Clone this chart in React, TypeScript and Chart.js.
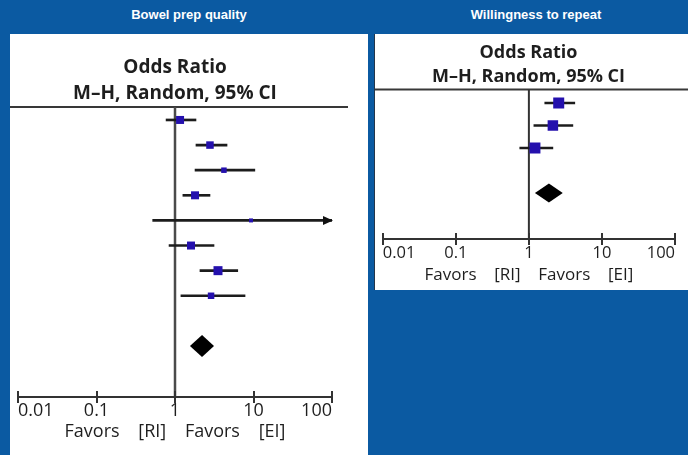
import React, { useEffect, useRef } from 'react';
import { Chart, registerables } from 'chart.js';

Chart.register(...registerables);

const FONT = '"Open Sans", "DejaVu Sans", sans-serif';
const BLUE = '#0b5aa2';
const SQUARE_BLUE = '#2410ad';
const INK = '#1e1e1e';

// shared axis / text content
const tickValues = [0.01, 0.1, 1, 10, 100];
const tickLabels = ['0.01', '0.1', '1', '10', '100'];
const plotTitle = ['Odds Ratio', 'M–H, Random, 95% CI'];
const favorsLabel = 'Favors    [RI]    Favors    [EI]';
const panelTitles = ['Bowel prep quality', 'Willingness to repeat'];

// Bowel prep quality (odds ratio, 95% CI, box size)
const bowelRows = [0, 1, 2, 3, 4, 5, 6, 7];
const bowelOR = [1.16, 2.79, 4.2, 1.8, 9.3, 1.6, 3.53, 2.88];
const bowelLower = [0.77, 1.85, 1.8, 1.26, 0.52, 0.84, 2.08, 1.19];
const bowelUpper = [1.85, 4.6, 10.4, 2.79, 250, 3.14, 6.3, 7.8];
const bowelBox = [8, 7.5, 5.5, 8, 4, 8, 9, 6.5];
const bowelPooledRow = 9;
const bowelPooled = [2.21, 1.55, 3.14]; // estimate, lower, upper

// Willingness to repeat
const repeatRows = [0, 1, 2];
const repeatOR = [2.56, 2.13, 1.21];
const repeatLower = [1.65, 1.17, 0.75];
const repeatUpper = [4.25, 4.0, 2.13];
const repeatBox = [11, 10.5, 11];
const repeatPooledRow = 4;
const repeatPooled = [1.88, 1.21, 2.91];

type PanelProps = {
  left: number; top: number; width: number; height: number;
  padLeft: number; padRight: number;
  titleSize: number; titleLH: number; titlePadTop: number;
  tickSize: number; tickPad: number; axisHeight: number;
  axisTitleSize: number; axisTitlePad: number;
  yMin: number; yMax: number;
  rows: number[]; or: number[]; lower: number[]; upper: number[]; box: number[];
  pooledRow: number; pooled: number[]; diamondH: number;
  headerExtend: number | null; nullWidth: number; nullColor: string;
};

function ForestPanel(p: PanelProps) {
  const ref = useRef<HTMLCanvasElement>(null);
  useEffect(() => {
    const canvas = ref.current!;
    const decor = {
      id: 'forestDecor',
      beforeDatasetsDraw(chart: any) {
        const { ctx, chartArea, scales } = chart;
        const x = scales.x;
        ctx.save();
        ctx.strokeStyle = '#383838';
        ctx.lineWidth = 2;
        ctx.beginPath();
        const hr = p.headerExtend === null ? chart.width : chartArea.right + p.headerExtend;
        ctx.moveTo(0, chartArea.top);
        ctx.lineTo(hr, chartArea.top);
        ctx.stroke();
        const x1 = x.getPixelForValue(1);
        ctx.strokeStyle = p.nullColor;
        ctx.lineWidth = p.nullWidth;
        ctx.beginPath();
        ctx.moveTo(x1, chartArea.top);
        ctx.lineTo(x1, chartArea.bottom);
        ctx.stroke();
        ctx.restore();
      },
      afterDatasetsDraw(chart: any) {
        const { ctx, scales } = chart;
        const x = scales.x;
        const y = scales.y;
        ctx.save();
        ctx.fillStyle = '#111';
        p.rows.forEach((r, i) => {
          if (p.upper[i] > x.max) {
            const tip = x.getPixelForValue(x.max) + 1;
            const yy = y.getPixelForValue(r);
            ctx.beginPath();
            ctx.moveTo(tip, yy);
            ctx.lineTo(tip - 10, yy - 4.5);
            ctx.lineTo(tip - 10, yy + 4.5);
            ctx.closePath();
            ctx.fill();
          }
        });
        const yd = y.getPixelForValue(p.pooledRow);
        const xe = x.getPixelForValue(p.pooled[0]);
        const xl = x.getPixelForValue(p.pooled[1]);
        const xh = x.getPixelForValue(p.pooled[2]);
        ctx.fillStyle = '#000';
        ctx.beginPath();
        ctx.moveTo(xl, yd);
        ctx.lineTo(xe, yd - p.diamondH);
        ctx.lineTo(xh, yd);
        ctx.lineTo(xe, yd + p.diamondH);
        ctx.closePath();
        ctx.fill();
        ctx.restore();
      },
      afterDraw(chart: any) {
        const { ctx, scales } = chart;
        const x = scales.x;
        ctx.save();
        ctx.strokeStyle = '#333';
        ctx.lineWidth = 2;
        x.ticks.forEach((_t: any, i: number) => {
          const px = Math.round(x.getPixelForTick(i));
          ctx.beginPath();
          ctx.moveTo(px, x.top - 6);
          ctx.lineTo(px, x.top + 6);
          ctx.stroke();
        });
        ctx.restore();
      },
    };

    const chart = new Chart(canvas, {
      type: 'scatter',
      data: {
        datasets: [
          {
            type: 'bar',
            indexAxis: 'y',
            data: p.rows.map((r, i) => ({ y: r, x: [p.lower[i], p.upper[i]] })) as any,
            backgroundColor: '#1c1c1c',
            borderWidth: 0,
            barThickness: 2,
            clip: 0,
            order: 2,
          } as any,
          {
            type: 'scatter',
            data: p.rows.map((r, i) => ({ x: p.or[i], y: r })),
            pointStyle: 'rect',
            pointRadius: p.box.map((b) => b * Math.SQRT1_2),
            pointHoverRadius: p.box.map((b) => b * Math.SQRT1_2),
            pointBorderWidth: 0,
            backgroundColor: SQUARE_BLUE,
            borderColor: SQUARE_BLUE,
            order: 1,
          } as any,
        ],
      },
      options: {
        responsive: false,
        animation: false,
        events: [],
        layout: { padding: { left: p.padLeft, right: p.padRight, top: 0, bottom: 0 } },
        plugins: {
          legend: { display: false },
          tooltip: { enabled: false },
          title: {
            display: true,
            text: plotTitle,
            color: INK,
            font: { family: FONT, size: p.titleSize, weight: 'bold', lineHeight: p.titleLH / p.titleSize },
            padding: { top: p.titlePadTop, bottom: 0 },
          },
        },
        scales: {
          x: {
            type: 'logarithmic',
            position: 'bottom',
            min: tickValues[0],
            max: tickValues[tickValues.length - 1],
            offset: false,
            afterBuildTicks: (scale: any) => {
              scale.ticks = tickValues.map((v) => ({ value: v }));
            },
            afterFit: (scale: any) => {
              scale.height = p.axisHeight;
            },
            grid: { display: false, drawTicks: false },
            border: { display: true, color: '#333', width: 2 },
            ticks: {
              autoSkip: false,
              maxRotation: 0,
              align: 'inner',
              padding: p.tickPad,
              color: INK,
              font: { family: FONT, size: p.tickSize },
              callback: (_v: any, i: number) => tickLabels[i],
            },
            title: {
              display: true,
              text: favorsLabel,
              color: INK,
              font: { family: FONT, size: p.axisTitleSize },
              padding: { top: 0, bottom: p.axisTitlePad },
            },
          } as any,
          y: {
            type: 'linear',
            display: false,
            reverse: true,
            min: p.yMin,
            max: p.yMax,
            offset: false,
          },
        },
      },
      plugins: [decor],
    } as any);
    return () => chart.destroy();
  }, []);
  return (
    <canvas
      ref={ref}
      width={p.width}
      height={p.height}
      style={{ position: 'absolute', left: p.left, top: p.top, width: p.width, height: p.height }}
    />
  );
}

const headingStyle: React.CSSProperties = {
  position: 'absolute',
  top: 6,
  textAlign: 'center',
  color: '#fff',
  fontWeight: 'bold',
  fontSize: 13,
  lineHeight: '18px',
  fontFamily: '"Liberation Sans", Arial, sans-serif',
};

export default function App() {
  return (
    <div
      style={{
        position: 'fixed',
        left: 0,
        top: 0,
        width: 688,
        height: 455,
        background: BLUE,
        overflow: 'hidden',
      }}
    >
      <div style={{ ...headingStyle, left: 10, width: 358 }}>{panelTitles[0]}</div>
      <div style={{ ...headingStyle, left: 375, width: 322 }}>{panelTitles[1]}</div>
      <div style={{ position: 'absolute', left: 10, top: 34, width: 358, height: 421, background: '#fff' }} />
      <div
        style={{
          position: 'absolute',
          left: 374,
          top: 34,
          width: 314,
          height: 256,
          background: '#fff',
          borderLeft: '1px solid #23364a',
          boxSizing: 'border-box',
        }}
      />
      <ForestPanel
        left={10} top={34} width={358} height={421}
        padLeft={8} padRight={36}
        titleSize={19} titleLH={26} titlePadTop={21}
        tickSize={18} tickPad={3.5} axisHeight={58}
        axisTitleSize={18} axisTitlePad={12.2}
        yMin={-0.516} yMax={11.03}
        rows={bowelRows} or={bowelOR} lower={bowelLower} upper={bowelUpper} box={bowelBox}
        pooledRow={bowelPooledRow} pooled={bowelPooled} diamondH={11}
        headerExtend={16} nullWidth={2.5} nullColor="#4a4a4a"
      />
      <ForestPanel
        left={375} top={34} width={313} height={256}
        padLeft={7} padRight={13}
        titleSize={18} titleLH={24.5} titlePadTop={6.5}
        tickSize={16.5} tickPad={4} axisHeight={51}
        axisTitleSize={17} axisTitlePad={5}
        yMin={-0.6} yMax={6.04}
        rows={repeatRows} or={repeatOR} lower={repeatLower} upper={repeatUpper} box={repeatBox}
        pooledRow={repeatPooledRow} pooled={repeatPooled} diamondH={9.5}
        headerExtend={null} nullWidth={2} nullColor="#333"
      />
    </div>
  );
}
